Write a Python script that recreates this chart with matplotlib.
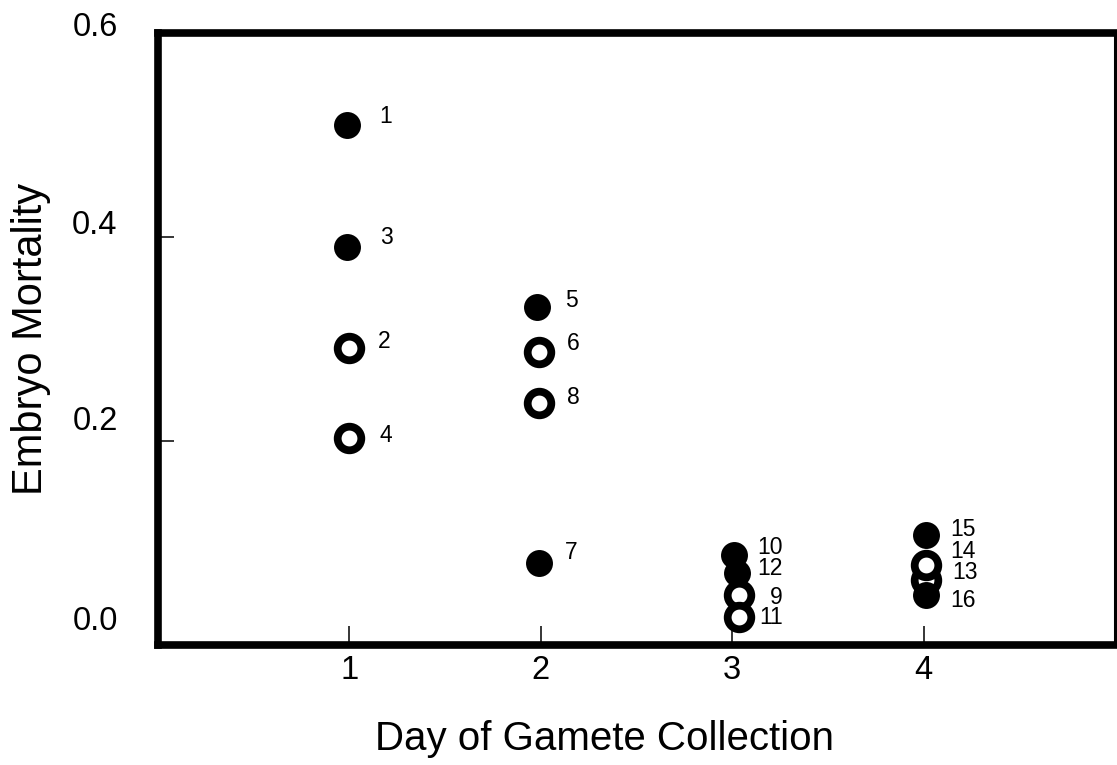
import matplotlib
matplotlib.use("Agg")
import matplotlib.pyplot as plt
import matplotlib.transforms as mtransforms

plt.rcParams['font.family'] = ['Liberation Sans', 'DejaVu Sans']

# values
point_ids = [1, 2, 3, 4, 5, 6, 7, 8, 9, 10, 11, 12, 13, 14, 15, 16]
day = [0.99, 1.0, 0.99, 1.0, 1.98, 1.99, 1.99, 1.99,
       3.035, 3.01, 3.035, 3.025, 4.015, 4.015, 4.015, 4.015]
mortality = [0.510, 0.291, 0.390, 0.203, 0.331, 0.287, 0.080, 0.237,
             0.049, 0.088, 0.027, 0.071, 0.064, 0.078, 0.108, 0.049]
filled = [True, False, True, False, True, False, True, False,
          False, True, False, True, False, False, True, True]

x_ticks = [1, 2, 3, 4]
y_ticks = [0.0, 0.2, 0.4, 0.6]
y_tick_labels = ['0.0', '0.2', '0.4', '0.6']

# label offsets in pixels (right edge of number, centre height)
label_dx = [45, 41, 45, 43, 41, 41, 39, 41, 44, 49, 44, 46, 51, 49, 49, 49]
label_dy = [8, 7, 10, 2, 7, 9, 11, 6, -2, 8, 0, 4, 7, 14, 5, -5]
# the y tick labels of the scan sit above their ticks, more so lower down
y_label_lift = [27, 23, 15, 9]

fig = plt.figure(figsize=(11.17, 7.65), dpi=100)
ax = fig.add_axes([158 / 1117, 120 / 765, 957 / 1117, 612 / 765])

for i in range(len(point_ids)):
  if filled[i]:
    ax.plot(day[i], mortality[i], 'o', ms=19.4, mfc='black', mec='black', mew=0, zorder=3)
  else:
    ax.plot(day[i], mortality[i], 'o', ms=17, mfc='white', mec='black', mew=5.6, zorder=3)
  ax.annotate(str(point_ids[i]), (day[i], mortality[i]),
              xytext=(label_dx[i], label_dy[i]), textcoords='offset pixels',
              ha='right', va='center', fontsize=16.5, zorder=4)

ax.set_xlim(0, 5)
ax.set_ylim(0, 0.6)
ax.set_xticks(x_ticks)
ax.set_xticklabels([str(t) for t in x_ticks])
ax.set_yticks(y_ticks)
ax.set_yticklabels(y_tick_labels)

ax.tick_params(axis='x', direction='in', length=14, width=1.1, labelsize=23.5, pad=7)
ax.tick_params(axis='y', direction='in', length=11.5, width=1.1, labelsize=23.5, pad=29)

for lab, lift in zip(ax.get_yticklabels(), y_label_lift):
  shift = mtransforms.ScaledTranslation(0, lift / 100, fig.dpi_scale_trans)
  lab.set_transform(lab.get_transform() + shift)

for side in ['left', 'top', 'bottom']:
  ax.spines[side].set_linewidth(5.5)
  ax.spines[side].set_capstyle('projecting')
ax.spines['right'].set_linewidth(2.2)

ax.set_xlabel("Day of Gamete Collection", fontsize=29)
ax.set_ylabel("Embryo Mortality", fontsize=30)
ax.xaxis.set_label_coords(0.467, -0.122)
ax.yaxis.set_label_coords(-0.112, 0.5)

plt.savefig('out.png', dpi=100)
